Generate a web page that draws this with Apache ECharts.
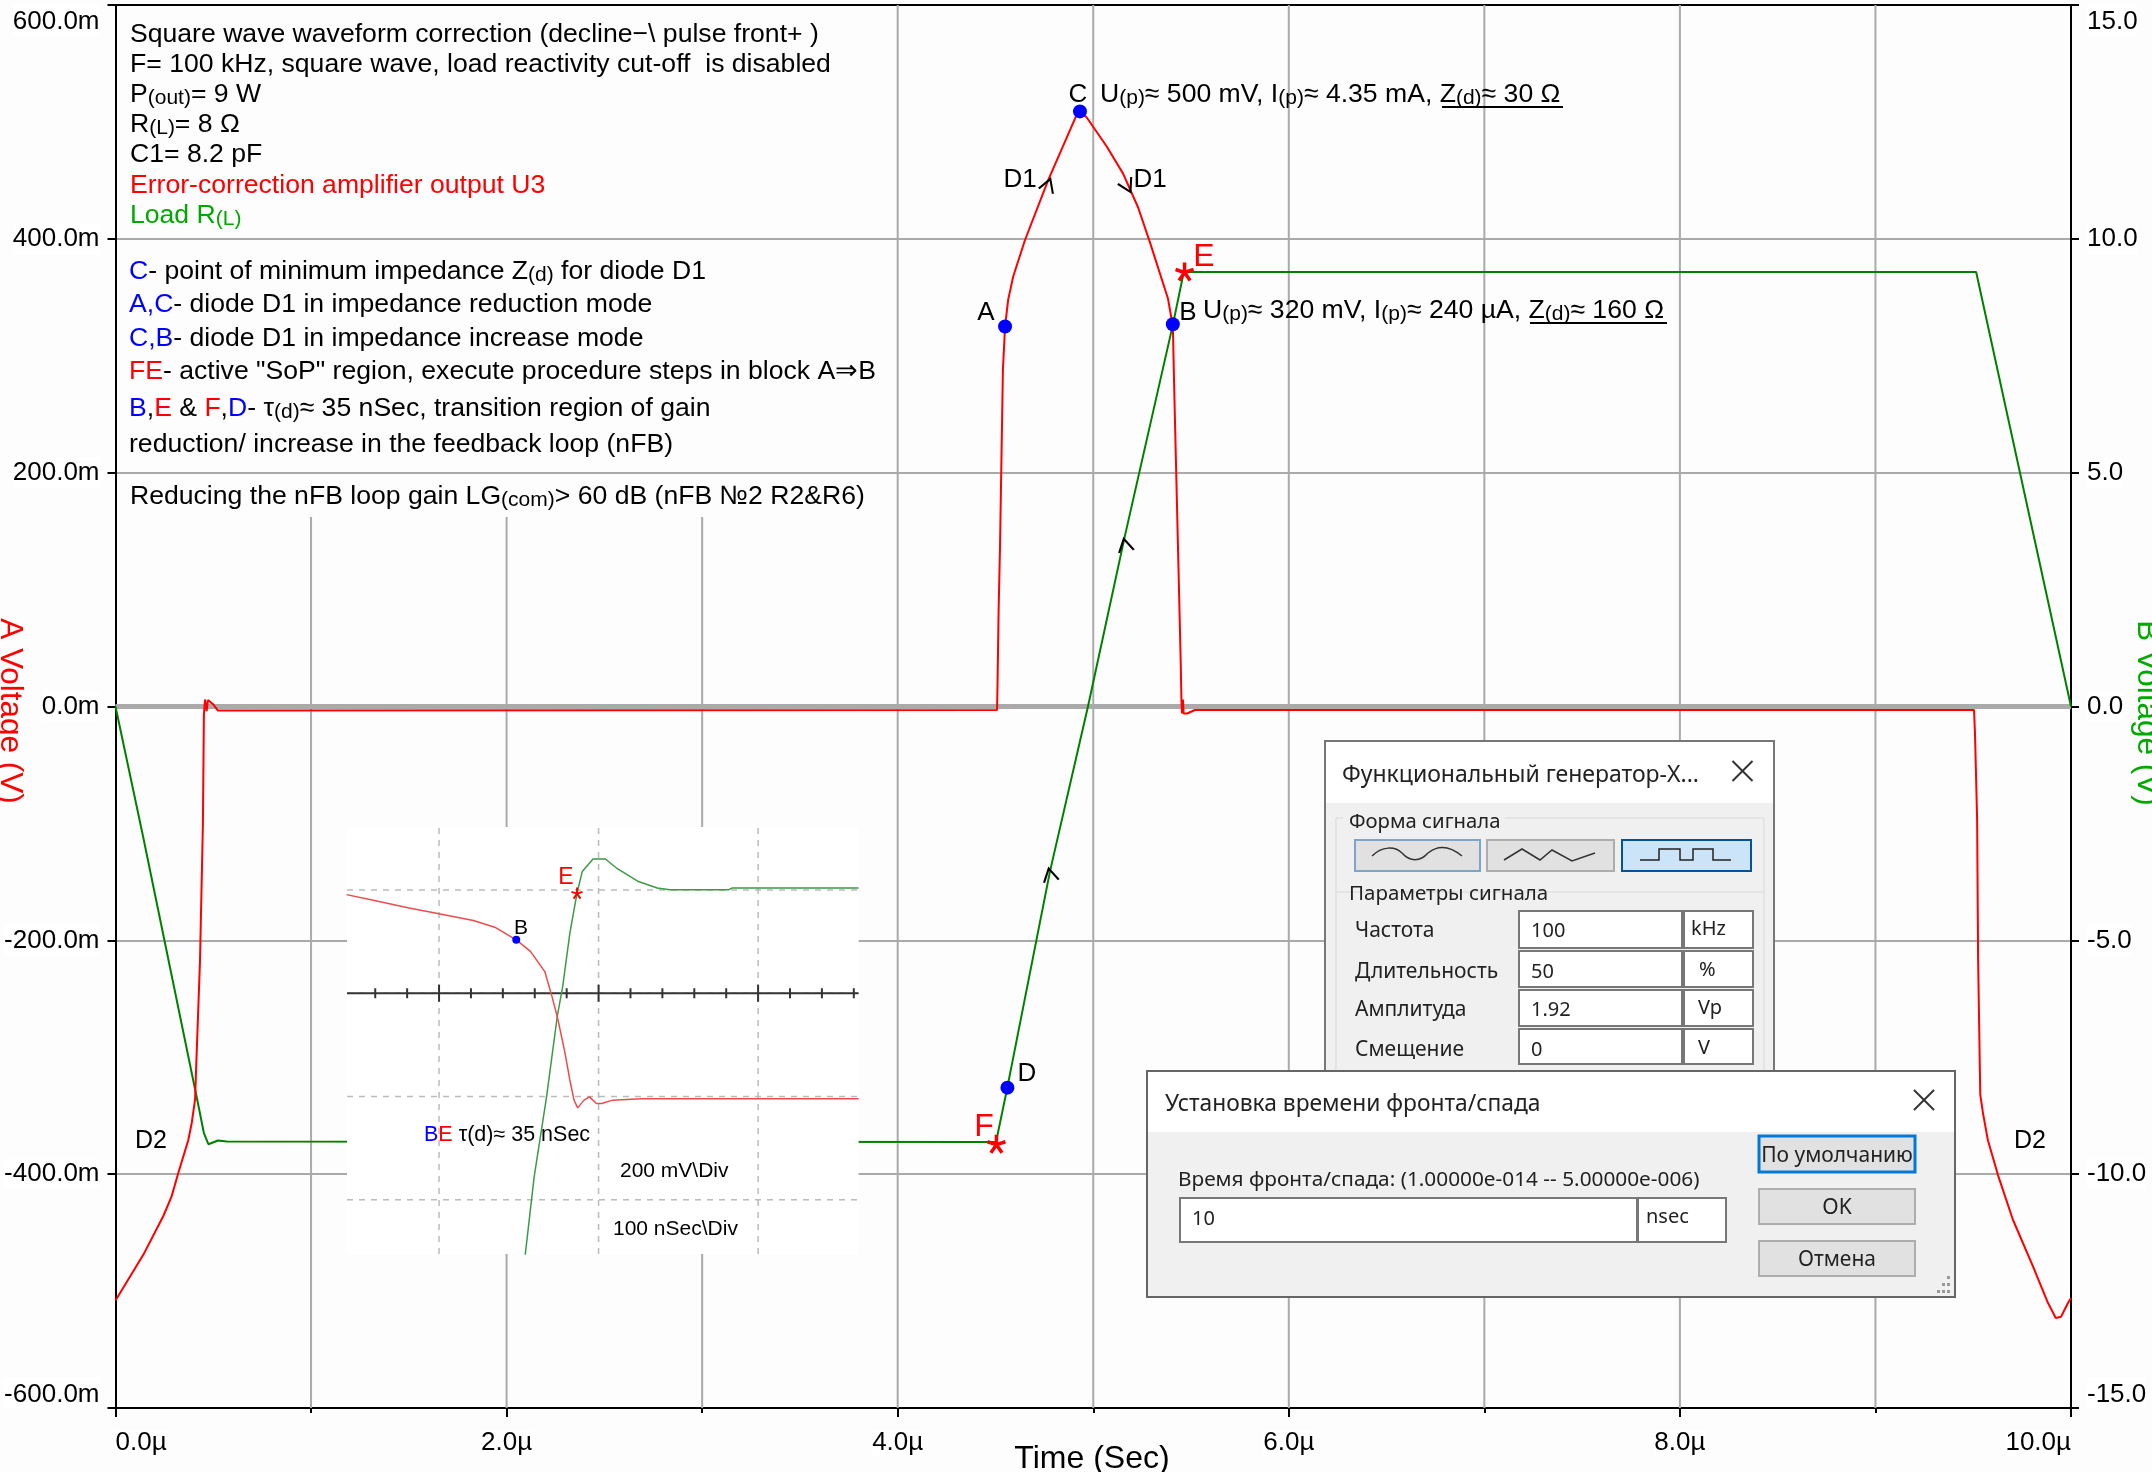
<!DOCTYPE html>
<html><head><meta charset="utf-8">
<style>html,body{margin:0;padding:0;background:#fdfdfd}#c{width:2152px;height:1472px}</style>
<script src="https://cdn.jsdelivr.net/npm/echarts@6/dist/echarts.min.js"></script>
</head><body><div id="c"></div>
<script>
// ---- main traces: time in microseconds, A in millivolts, B in volts
var redTrace = [[0,-508],[0.142,-469],[0.244,-436],[0.287,-419],[0.321,-399],[0.372,-371],[0.39,-356],[0.407,-336],[0.412,-311],[0.432,-218],[0.447,-100],[0.452,-7],[0.458,6],[0.466,-4],[0.473,5.5],[0.499,2],[0.524,-3.5],[4.508,-3],[4.51,14],[4.516,82],[4.523,135],[4.538,288],[4.549,325],[4.565,348],[4.591,368],[4.651,399],[4.769,450],[4.915,506],[4.932,509],[4.966,504],[5.069,479],[5.152,456],[5.229,427],[5.29,397],[5.382,349],[5.401,331],[5.407,327],[5.413,279],[5.447,40],[5.451,5],[5.454,-6],[5.459,6],[5.462,-6],[5.48,-6],[5.52,-3],[9.504,-3],[9.509,-23],[9.52,-97],[9.525,-217],[9.536,-332],[9.55,-348],[9.575,-371],[9.627,-401],[9.703,-439],[9.806,-479],[9.882,-510],[9.922,-523],[9.949,-522],[9.985,-510],[10,-506]];
var greenTrace = [[0,0],[0.137,-2.7],[0.418,-8.41],[0.452,-9.12],[0.475,-9.36],[0.524,-9.28],[0.569,-9.3],[4.503,-9.31],[4.561,-8.14],[4.779,-3.52],[4.973,0],[5.163,3.67],[5.407,8.16],[5.463,9.29],[5.515,9.29],[9.515,9.29],[10,0]];
var blueDots = [[4.549,325],[4.932,509],[5.407,327],[4.561,-326]];
var redStars = [[4.505,-374],[5.467,372]];
var arrowMarks = [[4.769,446,20],[5.175,445,153],[5.163,138,-12],[4.779,-144,-12]];
var fullGridTimes = [4,5,6,7,8,9];
var shortGridTimes = [1,2,3];
var shortGridTop = 162;
// ---- inset oscilloscope: nanoseconds, millivolts
var scopeRed = [[-58,191],[-41.2,180],[-18.8,165],[0,154],[21.5,141],[34.9,128],[48.4,103.5],[57.3,81],[66.3,42],[70.8,-6.5],[74.1,-45],[78.6,-110],[82,-168],[84.6,-207],[86.9,-222],[90.9,-207],[94.3,-200.6],[98.7,-213.5],[102,-213.5],[108.8,-207],[126.7,-204.5],[263,-204.5]];
var scopeGreen = [[54,-507],[59.6,-356],[67.4,-200.6],[74.1,-45],[77.5,13],[82,116.5],[86.5,194],[89.8,236],[96.5,260],[104.3,260],[111,243],[124.5,217],[136.8,204],[144.6,200.6],[181.6,200.6],[183.9,204],[263,204]];
var scopeMajorT = [0,100,200];
var scopeMinorT = [-40,-20,20,40,60,80,120,140,160,180,220,240,260];
var scopeRows = [200,-200,-400];
var scopeB = [[48.4,103.5]];
var scopeE = [[86.5,194]];
var scopeTMin=-57.7, scopeTMax=263, scopeVMin=-505, scopeVMax=322;
// ---- text
var noteLines = [
 [130,35,[['k','Square wave waveform correction (decline\u2212\\ pulse front+ )']]],
 [130,65,[['k','F= 100 kHz, square wave, load reactivity cut-off  is disabled']]],
 [130,95,[['k','P'],['s','(out)'],['k','= 9 W']]],
 [130,125,[['k','R'],['s','(L)'],['k','= 8 \u03a9']]],
 [130,155,[['k','C1= 8.2 pF']]],
 [130,186,[['r','Error-correction amplifier output U3']]],
 [130,216,[['g','Load R'],['gs','(L)']]],
 [129,272,[['b','C'],['k','- point of minimum impedance Z'],['s','(d)'],['k',' for diode D1']]],
 [129,305,[['b','A,C'],['k','- diode D1 in impedance reduction mode']]],
 [129,339,[['b','C,B'],['k','- diode D1 in impedance increase mode']]],
 [129,372,[['r','FE'],['k','- active "SoP" region, execute procedure steps in block A\u21d2B']]],
 [129,409,[['b','B'],['k',','],['r','E'],['k',' & '],['r','F'],['k',','],['b','D'],['k','- \u03c4'],['s','(d)'],['k','\u2248 35 nSec, transition region of gain']]],
 [129,445,[['k','reduction/ increase in the feedback loop (nFB)']]],
 [130,497,[['k','Reducing the nFB loop gain LG'],['s','(com)'],['k','> 60 dB (nFB \u21162 R2&R6)']]],
 [1100,95,[['k','U'],['s','(p)'],['k','\u2248 500 mV, I'],['s','(p)'],['k','\u2248 4.35 mA, Z'],['s','(d)'],['k','\u2248 30 \u03a9']]],
 [1203,311,[['k','U'],['s','(p)'],['k','\u2248 320 mV, I'],['s','(p)'],['k','\u2248 240 \u00b5A, Z'],['s','(d)'],['k','\u2248 160 \u03a9']]]
];
var F='"Liberation Sans",Arial,sans-serif', UI='"Noto Sans","Open Sans",sans-serif';
var rich = {
 k:{fill:'#000',fontSize:26.6,fontFamily:F}, s:{fill:'#000',fontSize:21,fontFamily:F,verticalAlign:'bottom'},
 r:{fill:'#f00',fontSize:26.6,fontFamily:F}, b:{fill:'#00f',fontSize:26.6,fontFamily:F},
 g:{fill:'#00a800',fontSize:26.6,fontFamily:F}, gs:{fill:'#00a800',fontSize:21,fontFamily:F,verticalAlign:'bottom'}
};
function T(x,y,text,size,color,o){o=o||{};return {type:'text',x:x,y:y+(o.rot?0:2.5),rotation:o.rot||0,z:o.z||60,silent:true,style:{text:text,fill:color||'#000',font:(size||25)+'px '+(o.fam||F),textAlign:o.a||'left',align:o.a||'left',textVerticalAlign:'middle',verticalAlign:'middle'}};}
function R(x0,y0,x1,y1,fill,stroke,w,z){return {type:'rect',z:z,silent:true,shape:{x:x0,y:y0,width:x1-x0,height:y1-y0},style:{fill:fill,stroke:stroke||null,lineWidth:w||0}};}
function P(pts,color,w,z){return {type:'polyline',z:z,silent:true,shape:{points:pts},style:{fill:null,stroke:color,lineWidth:w}};}
function B(x1,y1,cx1,cy1,cx2,cy2,x2,y2,z){return {type:'bezierCurve',z:z,silent:true,shape:{x1:x1,y1:y1,x2:x2,y2:y2,cpx1:cx1,cpy1:cy1,cpx2:cx2,cpy2:cy2},style:{fill:null,stroke:'#333',lineWidth:1.5}};}
function X(cx,cy,r,z){return [P([[cx-r,cy-r],[cx+r,cy+r]],'#333',2,z),P([[cx-r,cy+r],[cx+r,cy-r]],'#333',2,z)];}
var g=[];
noteLines.forEach(function(l){
 g.push({type:'text',x:l[0],y:l[1],z:60,silent:true,style:{text:l[2].map(function(s){return '{'+s[0]+'|'+s[1]+'}';}).join(''),rich:rich,textVerticalAlign:'middle',verticalAlign:'middle'}});
});
// underlines of the Z(d) values
g.push(R(1442,106,1563,108,'#000',null,0,60)); g.push(R(1530,322,1667,324,'#000',null,0,60));
// point labels
[[986,310,'A',26,'#000'],[1078,92,'C',26,'#000'],[1020,177,'D1',26,'#000'],[1150,177,'D1',26,'#000'],[1188,310,'B',26,'#000'],
 [1204,255,'E',32,'#f00'],[1027,1071,'D',26,'#000'],[984,1125,'F',32,'#f00'],[151,1139,'D2',25,'#000'],[2030,1139,'D2',25,'#000']
].forEach(function(a){g.push(T(a[0],a[1],a[2],a[3],a[4],{a:'center'}));});
// axis titles
g.push(T(10,711,'A Voltage (V)',31.5,'#f00',{a:'center',rot:-Math.PI/2}));
g.push(T(2147,713,'B Voltage (V)',31.5,'#00a800',{a:'center',rot:-Math.PI/2}));
g.push(T(1092,1457,'Time (Sec)',32,'#000',{a:'center'}));
// scope inset
g.push(R(347,827,858.6,1254,'#fff',null,0,10));
g.push(T(521,926,'B',21,'#000',{a:'center',z:30}));
g.push(T(566,875,'E',23,'#f00',{a:'center',z:30}));
g.push({type:'text',x:424,y:1135,z:30,silent:true,style:{text:'{b|B}{r|E}{k| \u03c4(d)\u2248 35 nSec}',rich:{b:{fill:'#00f',fontSize:21.5,fontFamily:F},r:{fill:'#f00',fontSize:21.5,fontFamily:F},k:{fill:'#000',fontSize:21.5,fontFamily:F}},textVerticalAlign:'middle',verticalAlign:'middle'}});
g.push(T(620,1169,'200 mV\\Div',21,'#000',{z:30}));
g.push(T(613,1227,'100 nSec\\Div',21,'#000',{z:30}));
// dialog 1
var z1=40;
g.push(R(1325,741,1774,1072,'#f0f0f0','#777',2,z1));
g.push(R(1326,742,1773,803,'#fff',null,0,z1));
g.push(R(1336,818,1764,1100,null,'#d9d9d9',1,z1));
g.push(R(1343,810,1505,830,'#f0f0f0',null,0,z1));
g.push(R(1343,884,1555,902,'#f0f0f0',null,0,z1));
g.push(P([[1336,892],[1764,892]],'#d9d9d9',1,z1));
g.push(T(1342,773,'\u0424\u0443\u043d\u043a\u0446\u0438\u043e\u043d\u0430\u043b\u044c\u043d\u044b\u0439 \u0433\u0435\u043d\u0435\u0440\u0430\u0442\u043e\u0440-X...',23,'#222',{fam:UI}));
g=g.concat(X(1742.5,771,10,z1+1));
g.push(T(1349,820,'\u0424\u043e\u0440\u043c\u0430 \u0441\u0438\u0433\u043d\u0430\u043b\u0430',20.3,'#222',{fam:UI}));
g.push(T(1349,892,'\u041f\u0430\u0440\u0430\u043c\u0435\u0442\u0440\u044b \u0441\u0438\u0433\u043d\u0430\u043b\u0430',20.5,'#222',{fam:UI}));
g.push(R(1355,840,1480,871,'#e1e1e1','#7ba6c9',2,z1));
g.push(R(1487,840,1614,871,'#e1e1e1','#adadad',2,z1));
g.push(R(1622,840,1751,871,'#cce4f7','#005499',2,z1));
g.push(B(1372,856,1382,846,1395,846,1402,853,z1+1));
g.push(B(1402,853,1410,862,1420,862,1428,853,z1+1));
g.push(B(1428,853,1438,845,1450,846,1462,856,z1+1));
g.push(P([[1504,860],[1522,849],[1540,860],[1552,850],[1572,861],[1595,853]],'#333',1.5,z1+1));
g.push(P([[1640,860],[1659,860],[1659,849],[1680,849],[1680,860],[1693,860],[1693,849],[1713,849],[1713,860],[1731,860]],'#222',1.5,z1+1));
var rows=[[929,911,948,'\u0427\u0430\u0441\u0442\u043e\u0442\u0430','100','kHz',1691],[970,951,987,'\u0414\u043b\u0438\u0442\u0435\u043b\u044c\u043d\u043e\u0441\u0442\u044c','50','%',1699],[1008,990,1026,'\u0410\u043c\u043f\u043b\u0438\u0442\u0443\u0434\u0430','1.92','Vp',1698],[1048,1029,1064,'\u0421\u043c\u0435\u0449\u0435\u043d\u0438\u0435','0','V',1698]];
rows.forEach(function(r){
 g.push(T(1355,r[0],r[3],21,'#222',{fam:UI}));
 g.push(R(1519,r[1],1682,r[2],'#fff','#777',2,z1));
 g.push(R(1684,r[1],1753,r[2],'#fff','#777',2,z1));
 g.push(T(1531,r[0],r[4],20,'#222',{fam:UI}));
 g.push(T(r[6],r[0]-2,r[5],20,'#222',{fam:UI}));
});
// dialog 2
var z2=45;
g.push(R(1147,1071,1955,1297,'#f0f0f0','#666',2,z2));
g.push(R(1148,1072,1954,1132,'#fff',null,0,z2));
g.push(T(1165,1102,'\u0423\u0441\u0442\u0430\u043d\u043e\u0432\u043a\u0430 \u0432\u0440\u0435\u043c\u0435\u043d\u0438 \u0444\u0440\u043e\u043d\u0442\u0430/\u0441\u043f\u0430\u0434\u0430',22.8,'#222',{fam:UI,z:70}));
g=g.concat(X(1924,1100,10,z2+1));
g.push(T(1178,1178,'\u0412\u0440\u0435\u043c\u044f \u0444\u0440\u043e\u043d\u0442\u0430/\u0441\u043f\u0430\u0434\u0430: (1.00000e-014 -- 5.00000e-006)',20.8,'#222',{fam:UI,z:70}));
g.push(R(1180,1198,1637,1242,'#fff','#777',2,z2));
g.push(R(1638,1198,1726,1242,'#fff','#777',2,z2));
g.push(T(1192,1217,'10',20,'#222',{fam:UI,z:70}));
g.push(T(1646,1215,'nsec',20,'#222',{fam:UI,z:70}));
g.push(R(1759,1136,1915,1172,'#e1e1e1','#0078d7',3,z2));
g.push(R(1759,1189,1915,1224,'#e1e1e1','#adadad',2,z2));
g.push(R(1759,1241,1915,1276,'#e1e1e1','#adadad',2,z2));
g.push(T(1837,1154,'\u041f\u043e \u0443\u043c\u043e\u043b\u0447\u0430\u043d\u0438\u044e',21,'#222',{fam:UI,a:'center',z:70}));
g.push(T(1837,1206,'OK',21,'#222',{fam:UI,a:'center',z:70}));
g.push(T(1837,1258,'\u041e\u0442\u043c\u0435\u043d\u0430',21,'#222',{fam:UI,a:'center',z:70}));
[[1947,1276],[1942,1283],[1947,1283],[1937,1290],[1942,1290],[1947,1290]].forEach(function(d){g.push(R(d[0],d[1],d[0]+3,d[1]+3,'#999',null,0,z2));});

var gridLines=[];
fullGridTimes.forEach(function(t){gridLines.push([t,-600],[t,600],[t,'-']);});
shortGridTimes.forEach(function(t){gridLines.push([t,-600],[t,shortGridTop],[t,'-']);});
var scopeGrid=[];
scopeMajorT.forEach(function(t){scopeGrid.push([t,scopeVMin],[t,scopeVMax],[t,'-']);});
scopeRows.concat([0]).forEach(function(v){scopeGrid.push([scopeTMin,v],[scopeTMax,v],[scopeTMax,'-']);});
var STAR='path://M10 10L10 0M10 10L19.5 7M10 10L15.9 18.1M10 10L4.1 18.1M10 10L0.5 7';
var CHEV='path://M0 10L5 0L10 10';
var axisFont={color:'#000',fontSize:26,fontFamily:F};
var option={
 animation:false,backgroundColor:'#fdfdfd',
 grid:[{left:115.5,top:5,width:1955.5,height:1403},{left:347,top:827,width:511.6,height:427}],
 xAxis:[
  {type:'value',gridIndex:0,min:0,max:10,interval:2,position:'bottom',
   axisLine:{onZero:false,lineStyle:{color:'#000',width:2}},axisTick:{length:9,lineStyle:{color:'#000',width:2}},
   minorTick:{show:true,splitNumber:2,length:5,lineStyle:{color:'#000',width:2}},splitLine:{show:false},
   axisLabel:Object.assign({margin:22,alignMinLabel:'left',alignMaxLabel:'right',backgroundColor:'#fff',formatter:function(v){return v.toFixed(1)+'\u00b5';}},axisFont)},
  {type:'value',gridIndex:0,min:0,max:10,position:'top',axisLine:{onZero:false,lineStyle:{color:'#000',width:2}},axisTick:{show:false},axisLabel:{show:false},splitLine:{show:false}},
  {type:'value',gridIndex:1,min:scopeTMin,max:scopeTMax,show:false,splitLine:{show:false}}
 ],
 yAxis:[
  {type:'value',gridIndex:0,min:-600,max:600,interval:200,position:'left',
   axisLine:{onZero:false,show:true,lineStyle:{color:'#000',width:2}},axisTick:{show:true,length:8,lineStyle:{color:'#000',width:2}},
   splitLine:{show:true,lineStyle:{color:'#aaa',width:2}},
   axisLabel:Object.assign({margin:16,padding:[4,0,0,0],verticalAlignMinLabel:'bottom',verticalAlignMaxLabel:'top',backgroundColor:'#fff',formatter:function(v){return v.toFixed(1)+'m';}},axisFont)},
  {type:'value',gridIndex:0,min:-15,max:15,interval:5,position:'right',
   axisLine:{onZero:false,show:true,lineStyle:{color:'#000',width:2}},axisTick:{show:true,length:8,lineStyle:{color:'#000',width:2}},
   splitLine:{show:false},
   axisLabel:Object.assign({margin:16,padding:[4,0,0,0],verticalAlignMinLabel:'bottom',verticalAlignMaxLabel:'top',backgroundColor:'#fff',formatter:function(v){return v.toFixed(1);}},axisFont)},
  {type:'value',gridIndex:1,min:scopeVMin,max:scopeVMax,show:false,splitLine:{show:false}}
 ],
 series:[
  {name:'grid',type:'line',xAxisIndex:0,yAxisIndex:0,z:1,silent:true,symbol:'none',data:gridLines,lineStyle:{color:'#aaa',width:2}},
  {name:'zero',type:'line',xAxisIndex:0,yAxisIndex:0,z:1,silent:true,symbol:'none',data:[[0,0],[10,0]],lineStyle:{color:'#aaa',width:5}},
  {name:'Load R(L)',type:'line',xAxisIndex:0,yAxisIndex:1,z:3,symbol:'none',data:greenTrace,lineStyle:{color:'#008000',width:2}},
  {name:'U3',type:'line',xAxisIndex:0,yAxisIndex:0,z:4,symbol:'none',data:redTrace,lineStyle:{color:'#f00',width:2}},
  {name:'points',type:'scatter',xAxisIndex:0,yAxisIndex:0,z:5,symbol:'circle',symbolSize:14,data:blueDots,itemStyle:{color:'#00f',opacity:1}},
  {name:'stars',type:'scatter',xAxisIndex:0,yAxisIndex:0,z:5,symbol:STAR,symbolSize:18,data:redStars,itemStyle:{color:'transparent',borderColor:'#f00',borderWidth:3.5,opacity:1}},
  {name:'arrows',type:'scatter',xAxisIndex:0,yAxisIndex:0,z:5,symbol:CHEV,symbolSize:[15,13],symbolRotate:function(v,p){return -arrowMarks[p.dataIndex][2];},data:arrowMarks.map(function(a){return [a[0],a[1]];}),itemStyle:{color:'transparent',borderColor:'#000',borderWidth:2,opacity:1}},
  {name:'scopeGrid',type:'line',xAxisIndex:2,yAxisIndex:2,z:20,silent:true,symbol:'none',data:scopeGrid,lineStyle:{color:'#bbb',width:1.5,type:[6,6]}},
  {name:'scopeAxis',type:'line',xAxisIndex:2,yAxisIndex:2,z:21,silent:true,symbol:'none',data:[[scopeTMin,0],[scopeTMax,0]],lineStyle:{color:'#333',width:2}},
  {name:'scopeMajor',type:'scatter',xAxisIndex:2,yAxisIndex:2,z:21,silent:true,symbol:'rect',symbolSize:[2,17],data:scopeMajorT.map(function(t){return [t,0];}),itemStyle:{color:'#333',opacity:1}},
  {name:'scopeMinor',type:'scatter',xAxisIndex:2,yAxisIndex:2,z:21,silent:true,symbol:'rect',symbolSize:[2,10],data:scopeMinorT.map(function(t){return [t,0];}),itemStyle:{color:'#333',opacity:1}},
  {name:'scopeB',type:'line',xAxisIndex:2,yAxisIndex:2,z:22,symbol:'none',data:scopeGreen,lineStyle:{color:'#3c9a46',width:1.5}},
  {name:'scopeA',type:'line',xAxisIndex:2,yAxisIndex:2,z:23,symbol:'none',data:scopeRed,lineStyle:{color:'#ee4b4b',width:1.5}},
  {name:'scopePointB',type:'scatter',xAxisIndex:2,yAxisIndex:2,z:24,symbol:'circle',symbolSize:8,data:scopeB,itemStyle:{color:'#00f',opacity:1}},
  {name:'scopePointE',type:'scatter',xAxisIndex:2,yAxisIndex:2,z:24,symbol:STAR,symbolSize:11,data:scopeE,itemStyle:{color:'transparent',borderColor:'#f00',borderWidth:2,opacity:1}}
 ],
 graphic:{elements:g}
};
echarts.init(document.getElementById('c')).setOption(option);
</script></body></html>
